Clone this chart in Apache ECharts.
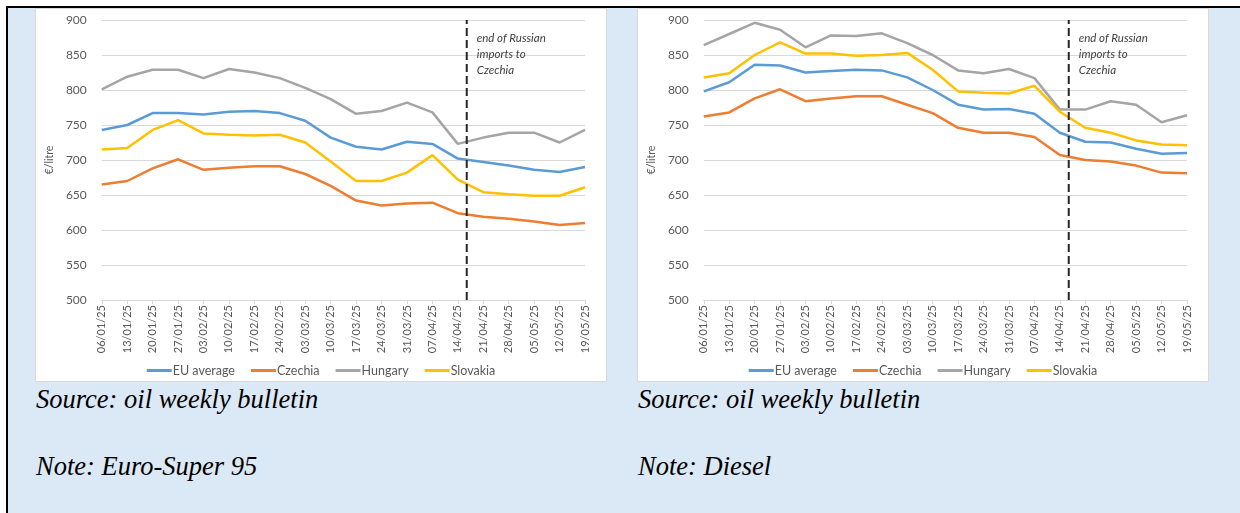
<!DOCTYPE html>
<html>
<head>
<meta charset="utf-8">
<script src="https://cdn.jsdelivr.net/npm/echarts@6.0.0/dist/echarts.min.js"></script>
<style>
  html, body { margin: 0; padding: 0; background: #fff; width: 1240px; height: 513px; overflow: hidden; }
  #frame { position: absolute; left: 6px; top: 6px; width: 1240px; height: 520px;
           border-left: 2px solid #000; border-top: 2px solid #000; background: #dbe8f6; }
  .panel { position: absolute; top: 8px; width: 572px; height: 374px; background: #fff;
           box-sizing: border-box; border: 1px solid #d9d9d9; }
  .cap { position: absolute; font-family: "Liberation Serif", "Times New Roman", serif;
         font-style: italic; font-size: 26.5px; line-height: 26px; color: #000; white-space: nowrap; }
</style>
</head>
<body>
<div id="frame"></div>
<div class="panel" id="petrol" style="left:35px"></div>
<div class="panel" id="diesel" style="left:637px"></div>
<div class="cap" style="left:36px; top:386px">Source: oil weekly bulletin</div>
<div class="cap" style="left:36px; top:453px">Note: Euro-Super 95</div>
<div class="cap" style="left:638px; top:386px">Source: oil weekly bulletin</div>
<div class="cap" style="left:638px; top:453px">Note: Diesel</div>
<script>
// weekly dates (dd/mm/yy)
const dates = ['06/01/25', '13/01/25', '20/01/25', '27/01/25', '03/02/25', '10/02/25', '17/02/25',
  '24/02/25', '03/03/25', '10/03/25', '17/03/25', '24/03/25', '31/03/25', '07/04/25', '14/04/25',
  '21/04/25', '28/04/25', '05/05/25', '12/05/25', '19/05/25']
const seriesNames = ['EU average', 'Czechia', 'Hungary', 'Slovakia']
const seriesColors = ['#5b9bd5', '#ed7d31', '#a5a5a5', '#ffc000']

// Euro-Super 95, EUR per 1000 litres
const petrolEu = [743, 750, 767, 767, 765, 769, 770, 767, 756, 732, 719, 715, 726, 723, 702, 697, 692, 686, 683, 690]
const petrolCz = [665, 670, 688, 701, 686, 689, 691, 691, 680, 663, 642, 635, 638, 639, 624, 619, 616, 612, 607, 610]
const petrolHu = [801, 819, 829, 829, 817, 830, 825, 817, 803, 787, 766, 770, 782, 768, 723, 732, 739, 739, 725, 743]
const petrolSk = [715, 717, 743, 757, 738, 736, 735, 736, 725, 698, 670, 670, 682, 707, 672, 654, 651, 649, 649, 661]

// Diesel
const dieselEu = [798, 811, 836, 835, 825, 827, 829, 828, 818, 800, 779, 772, 773, 766, 739, 726, 725, 716, 709, 710]
const dieselCz = [762, 768, 788, 801, 784, 788, 791, 791, 779, 767, 746, 739, 739, 733, 707, 700, 698, 692, 682, 681]
const dieselHu = [864, 880, 896, 886, 861, 878, 877, 881, 867, 850, 828, 824, 830, 817, 772, 772, 784, 779, 754, 764]
const dieselSk = [818, 824, 850, 868, 852, 852, 849, 850, 853, 829, 798, 796, 795, 806, 769, 746, 739, 728, 722, 721]

// y axis and marker position (category index, between 14/04 and 21/04)
const yMin = 500
const yMax = 900
const yStep = 50
const eventPos = 14.35
const eventText = 'end of Russian\nimports to\nCzechia'

function makeChart (el, values) {
  const chart = echarts.init(el)
  const series = values.map((v, i) => ({
    name: seriesNames[i],
    type: 'line',
    data: v,
    symbol: 'none',
    lineStyle: { width: 2.5, color: seriesColors[i] },
    itemStyle: { color: seriesColors[i] },
    animation: false
  }))
  series.push({
    name: 'event',
    type: 'line',
    xAxisIndex: 1,
    data: [[eventPos, yMin], [eventPos, yMax]],
    symbol: 'none',
    lineStyle: { width: 2, color: '#262626', type: [8, 4] },
    animation: false,
    silent: true
  })
  chart.setOption({
    animation: false,
    grid: { left: 64, right: 21, top: 11, bottom: 81 },
    legend: {
      data: seriesNames,
      top: 350,
      left: 'center',
      icon: 'rect',
      itemWidth: 25,
      itemHeight: 3,
      itemGap: 16,
      textStyle: { color: '#595959', fontSize: 12.5, fontFamily: 'Lato', padding: [0, 0, 0, -4] }
    },
    xAxis: [{
      type: 'category',
      data: dates,
      boundaryGap: false,
      axisLine: { lineStyle: { color: '#d9d9d9' } },
      axisTick: { show: true, length: 4, lineStyle: { color: '#d9d9d9' } },
      axisLabel: { rotate: 90, margin: 5, color: '#595959', fontSize: 11, fontFamily: 'Lato', interval: 0 }
    }, {
      type: 'value',
      min: 0,
      max: dates.length - 1,
      show: false
    }],
    yAxis: {
      type: 'value',
      min: yMin,
      max: yMax,
      interval: yStep,
      name: '€/litre',
      nameLocation: 'middle',
      nameGap: 37,
      nameTextStyle: { color: '#595959', fontSize: 10.5, fontFamily: 'Lato' },
      axisLine: { show: false },
      axisTick: { show: false },
      axisLabel: { color: '#595959', fontSize: 12, fontFamily: 'Lato', margin: 15 },
      splitLine: { lineStyle: { color: '#d9d9d9' } }
    },
    series
  })
  const p = chart.convertToPixel({ xAxisIndex: 1, yAxisIndex: 0 }, [eventPos, yMax])
  chart.setOption({
    graphic: [{
      type: 'text',
      x: p[0] + 10,
      y: p[1] + 10,
      style: {
        text: eventText,
        fill: '#404040',
        font: 'italic 11.5px Lato',
        lineHeight: 16,
        verticalAlign: 'top'
      }
    }]
  })
  return chart
}

makeChart(document.getElementById('petrol'), [petrolEu, petrolCz, petrolHu, petrolSk])
makeChart(document.getElementById('diesel'), [dieselEu, dieselCz, dieselHu, dieselSk])
</script>
</body>
</html>
